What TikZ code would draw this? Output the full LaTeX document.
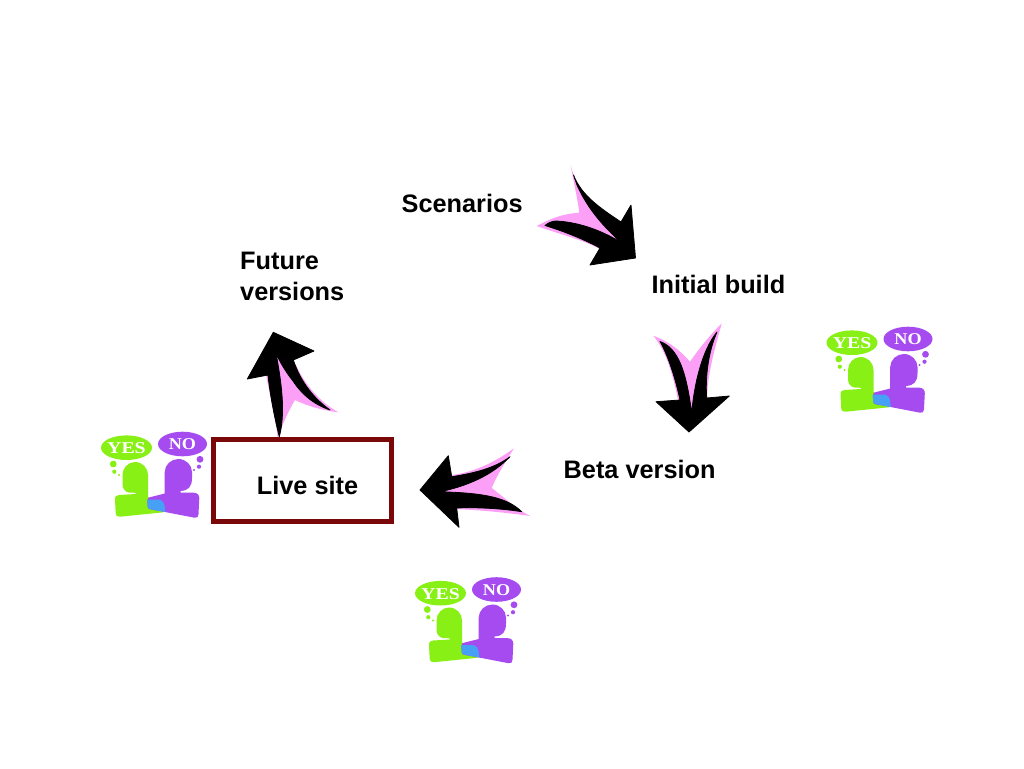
\documentclass[tikz,border=0pt]{standalone}
\usepackage{fontspec}
\setmainfont{Liberation Sans}
\newfontfamily\iconfont{Liberation Serif}
\definecolor{pinkarrow}{RGB}{252,160,247}
\definecolor{livered}{RGB}{122,8,8}
\definecolor{yesgreen}{RGB}{136,240,20}
\definecolor{nopurple}{RGB}{165,75,240}
\definecolor{overlapblue}{RGB}{70,160,245}
\tikzset{
  pinkpart/.style={fill=pinkarrow,draw=none},
  blackpart/.style={fill=black,draw=black,line width=0.8pt,line join=round},
  lbl/.style={font=\fontsize{25.3}{30.5}\selectfont\bfseries,text=black,inner sep=0pt,align=left},
  bubbletext/.style={font=\iconfont\fontsize{16.5}{18}\selectfont\bfseries,text=white,inner sep=0pt},
  liveframe/.style={draw=livered,line width=5pt,fill=white,minimum width=178pt,minimum height=81.5pt,inner sep=0pt},
}
\newcommand{\voter}[3]{%
  \begin{scope}[shift={(#1,#2)}]
    % green person
    \fill[yesgreen] (40,37) .. controls (47.5,37) and (53,43) .. (53,50)
       -- (53,72) -- (68.3,82) -- (68.3,87.3) -- (25,91.7)
       .. controls (22,92) and (20.7,90.5) .. (20.7,88.3)
       -- (20,75) .. controls (20,71.5) and (21,70) .. (24,70)
       -- (40.5,69) -- (40.5,67.8) -- (34,67.5)
       .. controls (29.5,67) and (27.5,63) .. (27.5,59) -- (27.5,50)
       .. controls (27.5,43) and (33,37) .. (40,37) -- cycle;
    % purple person
    \fill[nopurple] (83.3,34) .. controls (91,34) and (97,40) .. (97,47)
       -- (97,53) .. controls (97,62) and (93,65.7) .. (85.7,65.9)
       -- (85.7,67.5) -- (99,67.7) .. controls (102.5,68) and (104.3,70) .. (104.3,73.3)
       -- (103.5,89) .. controls (103.5,92) and (102,93.3) .. (99.5,92.7)
       -- (70,87) -- (55,84.3) .. controls (53.5,84) and (52.7,83) .. (52.7,81.7)
       -- (52.3,75.5) .. controls (52.3,73) and (54,71.7) .. (57,71.7)
       -- (69.7,68.5) -- (69.7,47) .. controls (69.7,40) and (76,34) .. (83.3,34) -- cycle;
    % overlap
    \fill[overlapblue] (52.3,74.5) -- (65,74.7) .. controls (67.5,75.5) and (69,77.5) .. (69.5,80)
       -- (70.3,87) -- (56.7,84.4) .. controls (54,83.8) and (52.7,83) .. (52.7,81.7) -- cycle;
    % bubbles
    \fill[yesgreen] (18.3,39) circle (3.4) (19.3,46.7) circle (2.1) (24,50) circle (1.1);
    \fill[nopurple] (105,34.3) circle (3.4) (104,41.7) circle (2.1) (99,45) circle (1.1);
    \fill[yesgreen] (31.5,22.7) ellipse [x radius=25.5,y radius=12.3];
    \fill[nopurple] (87.5,19) ellipse [x radius=24.5,y radius=12.3];
    \node[bubbletext,xscale=1.2] (#3yes) at (31.5,23.2) {YES};
    \node[bubbletext,xscale=1.1] (#3no) at (87.5,19.2) {NO};
  \end{scope}}
\begin{document}
\begin{tikzpicture}[x=1pt,y=-1pt]
\useasboundingbox (0,0) rectangle (1024,768);
\fill[white] (0,0) rectangle (1024,768);

% Scenarios -> Initial build
\fill[pinkpart] (570.7,165) .. controls (576,190) and (598,208) .. (622,232)
  -- (605,252) .. controls (585,240) and (565,236) .. (536.7,226)
  .. controls (548,220) and (560,214) .. (579.3,212.7)
  .. controls (577,195) and (573,180) .. (570.7,165) -- cycle;
\fill[blackpart] (573.5,175) .. controls (581,195) and (600,208) .. (621,222)
  -- (631,205) -- (635.5,258) -- (590,265) -- (600,248)
  .. controls (585,240) and (566,232) .. (545,225.5)
  .. controls (548,223) and (552,221) .. (556,221)
  .. controls (580,222) and (605,232) .. (621.7,243)
  .. controls (605,228) and (588,210) .. (577,185) -- cycle;

% Initial build -> Beta version
\fill[pinkpart] (721.7,323.3) .. controls (716,345) and (708,370) .. (707,398)
  -- (692,416) -- (678,400) .. controls (672,370) and (665,350) .. (653.3,335.7)
  .. controls (668,341) and (680,350) .. (690,361.7)
  .. controls (698,350) and (710,335) .. (721.7,323.3) -- cycle;
\fill[blackpart] (660,341.5) .. controls (678,348) and (686,370) .. (691.7,413)
  .. controls (694,385) and (702,350) .. (717,332)
  .. controls (709,350) and (705,375) .. (706.7,398)
  -- (729.3,396) -- (689,432) -- (656,401.7) -- (680,400)
  .. controls (674,372) and (666,352) .. (660,341.5) -- cycle;

% Beta version -> Live site
\fill[pinkpart] (514,448.3) .. controls (500,470) and (495,480) .. (491.7,488)
  .. controls (505,498) and (515,508) .. (530,516)
  .. controls (510,513) and (480,510) .. (455,509) -- (441,491)
  -- (452,475) .. controls (475,472) and (495,462) .. (514,448.3) -- cycle;
\fill[blackpart] (420,490) -- (448.3,455.7) -- (451.7,476.7)
  .. controls (475,473) and (495,468) .. (510,456.7)
  .. controls (495,472) and (475,484) .. (440.7,491.7)
  .. controls (475,493) and (505,495) .. (521.7,511.7)
  .. controls (505,509) and (480,507) .. (456.7,508)
  -- (459,527.3) -- cycle;

% Live site -> Future versions
\fill[pinkpart] (276,353) -- (296,365) .. controls (305,385) and (320,402) .. (338.3,412.3)
  .. controls (320,410) and (305,405) .. (295,400)
  .. controls (288,412) and (282,425) .. (277.7,438.3)
  .. controls (276,420) and (271,400) .. (266,375) -- cycle;
\fill[blackpart] (273.3,332.3) -- (314,351) -- (293.3,360)
  .. controls (300,380) and (312,397) .. (330,410)
  .. controls (312,404) and (300,392) .. (293,381)
  .. controls (285,371) and (280,362) .. (276,353.3)
  .. controls (281,380) and (286,412) .. (279.3,436.7)
  .. controls (275,420) and (270,395) .. (268,375)
  -- (247.3,379) -- cycle;

% Voters
\voter{95}{425}{a}
\voter{820.5}{320}{b}
\voter{409}{570.5}{c}

% Live site frame
\node[liveframe] (live) at (302.5,480.3) {};
\node[lbl] (livetext) at (307.5,485.5) {Live site};

% Labels
\node[lbl,anchor=base west] (scen) at (401.5,212) {Scenarios};
\node[lbl,anchor=base west] (init) at (651.5,293) {Initial build};
\node[lbl,anchor=base west] (beta) at (563.5,478.5) {Beta version};
\node[lbl,anchor=base west] (fut1) at (240,269.5) {Future};
\node[lbl,anchor=base west] (fut2) at (240,300) {versions};
\end{tikzpicture}
\end{document}
